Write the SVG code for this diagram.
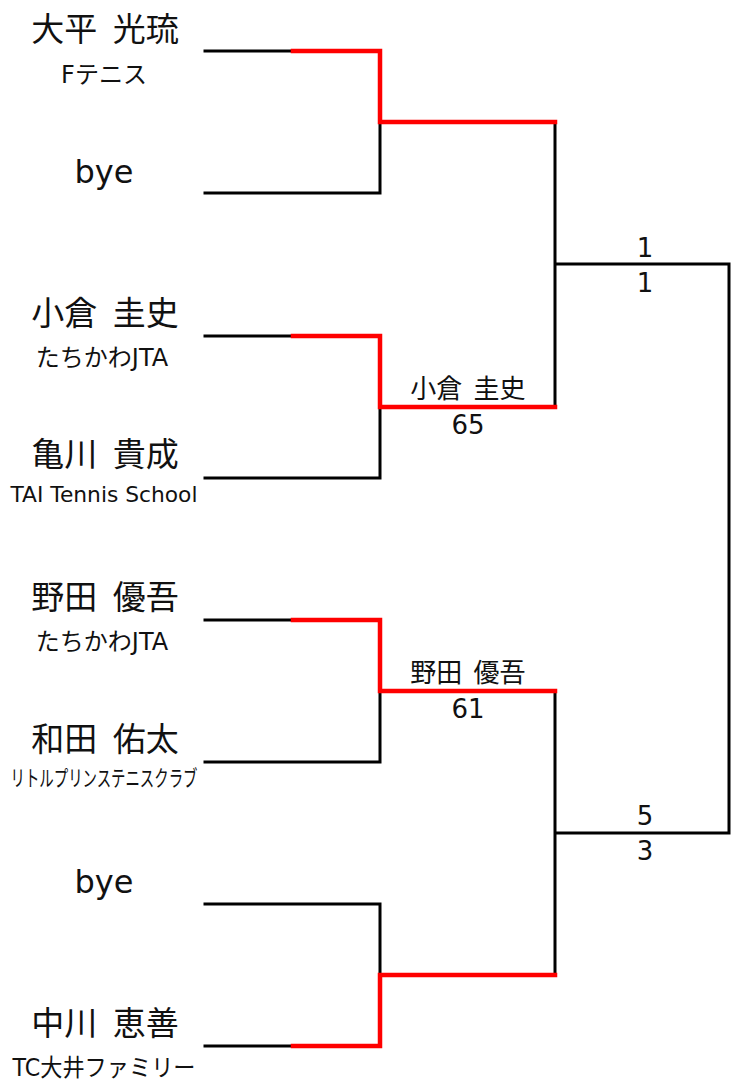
<svg xmlns="http://www.w3.org/2000/svg" width="731" height="1081" viewBox="0 0 731 1081">
<style>
text{font-family:"DejaVu Sans","Noto Sans CJK JP",sans-serif;fill:#111;text-anchor:middle}
.nm{font-size:33px;word-spacing:5px}
.by{font-size:32px}
.cl{font-size:24px}
.sm{font-size:22px}
.rn{font-size:26px;word-spacing:3px}
.sc{font-size:26px}
.k{fill:none;stroke:#000;stroke-width:3;stroke-linejoin:miter;stroke-linecap:square}
.r{fill:none;stroke:#f00;stroke-width:4.5;stroke-linejoin:miter;stroke-linecap:square}
</style>
<rect width="731" height="1081" fill="#fff"/>
<g id="connectors">
<path class="k" d="M205,51H292M205,193H380V122"/>
<path class="k" d="M205,336H292M205,478H380V407"/>
<path class="k" d="M205,620H292M205,762H380V691"/>
<path class="k" d="M205,904H380V975M205,1046H292"/>
<path class="k" d="M555,122V407M555,691V975M555,264H729V833H555"/>
<path class="r" d="M293,51H380V122H555"/>
<path class="r" d="M293,336H380V407H555"/>
<path class="r" d="M293,620H380V691H555"/>
<path class="r" d="M293,1046H380V975H555"/>
</g>
<g id="p1"><text class="nm" x="105" y="41">大平 光琉</text><text class="cl" x="104" y="83">Fテニス</text></g>
<g id="p2"><text class="by" x="104" y="183">bye</text></g>
<g id="p3"><text class="nm" x="105" y="325">小倉 圭史</text><text class="cl" x="102" y="366">たちかわJTA</text></g>
<g id="p4"><text class="nm" x="105" y="466">亀川 貴成</text><text class="sm" x="104" y="502" textLength="187" lengthAdjust="spacingAndGlyphs">TAI Tennis School</text></g>
<g id="p5"><text class="nm" x="105" y="609">野田 優吾</text><text class="cl" x="102" y="650">たちかわJTA</text></g>
<g id="p6"><text class="nm" x="105" y="751">和田 佑太</text><text class="sm" x="104" y="786" textLength="187" lengthAdjust="spacingAndGlyphs">リトルプリンステニスクラブ</text></g>
<g id="p7"><text class="by" x="104" y="893">bye</text></g>
<g id="p8"><text class="nm" x="105" y="1035">中川 恵善</text><text class="cl" x="104" y="1076" textLength="183" lengthAdjust="spacingAndGlyphs">TC大井ファミリー</text></g>
<g id="m2"><text class="rn" x="468" y="398">小倉 圭史</text><text class="sc" x="468" y="434">65</text></g>
<g id="m3"><text class="rn" x="468" y="682">野田 優吾</text><text class="sc" x="468" y="718">61</text></g>
<g id="f1"><text class="sc" x="645" y="257">1</text><text class="sc" x="645" y="292">1</text></g>
<g id="f2"><text class="sc" x="645" y="825">5</text><text class="sc" x="645" y="860">3</text></g>
</svg>
